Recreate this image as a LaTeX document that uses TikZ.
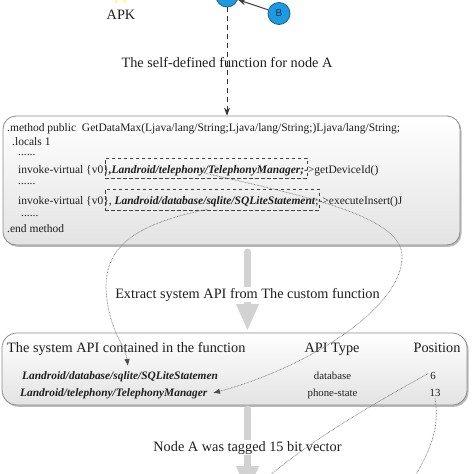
\documentclass[tikz,border=0pt]{standalone}
\usepackage{fontspec}
\setmainfont{Liberation Serif}
\newfontfamily\sansf{Liberation Sans}
\usetikzlibrary{arrows.meta,shadows}
\definecolor{nodeblue}{HTML}{1E9BE0}
\definecolor{nodeedge}{HTML}{1A5F96}
\definecolor{txt}{HTML}{1E1E1E}
\definecolor{bigarr}{HTML}{D2D2D2}
\definecolor{curvec}{HTML}{7A7A7A}
\begin{document}
\begin{tikzpicture}[x=1pt,y=-1pt,
  every node/.style={text=txt},
  roundbox/.style={draw=black!45, line width=0.8pt, rounded corners=13pt,
    top color=white, bottom color=black!11, inner sep=0pt,
    drop shadow={shadow xshift=1.5pt, shadow yshift=-1.8pt, opacity=0.45, fill=black!60}},
  graphnode/.style={circle, fill=nodeblue, draw=nodeedge, line width=0.8pt, inner sep=0pt, font=\sansf\fontsize{10}{10}\selectfont, text=nodeedge!60!black},
  codetxt/.style={anchor=base west, inner sep=0pt, font=\fontsize{11.5}{12}\selectfont},
  bigtxt/.style={inner sep=0pt, font=\fontsize{14.3}{15}\selectfont},
  datatxt/.style={anchor=base, inner sep=0pt, font=\fontsize{10.8}{12}\selectfont},
  apitxt/.style={anchor=base west, inner sep=0pt, font=\fontsize{11.4}{12}\selectfont\bfseries\itshape},
  dashbox/.style={draw=black!75, dashed, dash pattern=on 3.5pt off 2.5pt, line width=0.8pt, inner sep=0pt},
  bigarrow/.style={draw=bigarr, line width=7pt, line cap=round, -{Triangle[width=21pt,length=27pt]}},
  dotcurve/.style={draw=curvec, line width=0.7pt, dash pattern=on 0.7pt off 0.8pt},
  dottip/.style={-{Latex[length=7pt,width=5.5pt,color=black!70]}}
]
\clip (0,0) rectangle (474,474);
\fill[white] (0,0) rectangle (474,474);

% APK icon remnant and label
\fill[yellow!35!white] (115,0) rectangle (118,2.5);
\fill[yellow!35!white] (123,0) rectangle (126,2.5);
\node[bigtxt, anchor=base] (apk) at (121,19) {APK};

% graph nodes
\node[graphnode, minimum size=22pt] (A) at (227,-4) {A};
\node[graphnode, minimum size=22pt] (B) at (279,13.5) {B};
\draw[black!75, line width=1pt, -{Stealth[length=8pt,width=6pt]}] (B) -- (A);

% label 1
\node[bigtxt, anchor=base] (lab1) at (227,67) {The self-defined function for node A};

% box 1
\node[roundbox, minimum width=457pt, minimum height=129pt] (box1) at (231.5,180.5) {};
\draw[black!80, line width=1pt, dash pattern=on 5pt off 4pt, -{Stealth[length=8pt,width=6pt]}] (A.south) -- (A.south |- box1.north);

\node[codetxt] (c1) at (7,131.5) {.method public\ \ GetDataMax(Ljava/lang/String;Ljava/lang/String;)Ljava/lang/String;};
\node[codetxt] (c2) at (12,145) {.locals 1};
\node[codetxt] (c3) at (18,155) {......};
\node[codetxt] (c4) at (18,173) {invoke-virtual \{v0\}\textbf{\textit{,Landroid/telephony/TelephonyManager;}}->getDeviceId()};
\node[codetxt] (c5) at (18,184) {......};
\node[codetxt] (c6) at (18,204) {invoke-virtual \{v0\}, \textbf{\textit{Landroid/database/sqlite/SQLiteStatement}};->executeInsert()J};
\node[codetxt] (c7) at (21,216) {......};
\node[codetxt] (c8) at (7,232) {.end method};

\node[dashbox, minimum width=202pt, minimum height=20pt] (d1) at (206,168) {};
\node[dashbox, minimum width=214pt, minimum height=21pt] (d2) at (212,199.5) {};

% box 2
\node[roundbox, rounded corners=15pt, minimum width=465pt, minimum height=72pt] (box2) at (234.5,369) {};
\node[bigtxt, anchor=base west] (h1) at (7,352) {The system API contained in the function};
\node[bigtxt, anchor=base] (h2) at (332,352) {API Type};
\node[bigtxt, anchor=base] (h3) at (437,352) {Position};
\node[apitxt] (r1) at (22,379) {Landroid/database/sqlite/SQLiteStatemen};
\node[apitxt] (r2) at (20,396) {Landroid/telephony/TelephonyManager};
\node[datatxt] (t1) at (332.5,379) {database};
\node[datatxt] (t2) at (332.5,396) {phone-state};
\node[datatxt] (p1) at (433,379) {6};
\node[datatxt] (p2) at (435,396) {13};

% big arrows
\coordinate (a1s) at (247.5,252);
\coordinate (a1e) at (247.5,331);
\draw[bigarrow] (a1s) -- (a1e);
\node[bigtxt, anchor=base, fill=white, inner sep=1pt] (lab2) at (247.5,298) {Extract system API from The custom function};
\coordinate (a2s) at (247.5,409);
\coordinate (a2e) at (247.5,493);
\draw[bigarrow] (a2s) -- (a2e);
\node[bigtxt, anchor=base, fill=white, inner sep=1pt] (lab3) at (247.5,451) {Node A was tagged 15 bit vector};

% dotted curves
\coordinate (r2t) at (213,393);
\coordinate (r1t) at (128,366);
\draw[dotcurve, dottip] (d1.center) ++(-6,4) .. controls (300,195) and (400,215) .. (402,255)
   .. controls (404,310) and (300,370) .. (r2t);
\draw[dotcurve, dottip] (d2.south) ++(-5,-1) .. controls (130,225) and (100,250) .. (107,300)
   .. controls (112,335) and (125,345) .. (r1t);
\coordinate (e3) at (262,482);
\coordinate (e4) at (412,482);
\draw[dotcurve] (p1.north west) ++(-2,2) .. controls (380,400) and (310,440) .. (e3);
\draw[dotcurve] (p2.south) ++(0,2) .. controls (440,430) and (430,450) .. (e4);
\end{tikzpicture}
\end{document}
